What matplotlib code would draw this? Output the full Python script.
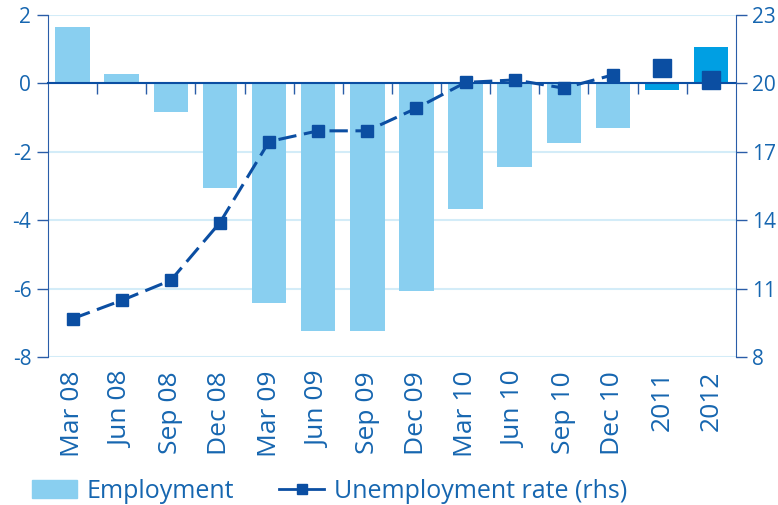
import matplotlib.pyplot as plt
import numpy as np
from matplotlib.lines import Line2D
from matplotlib.patches import Patch

plt.rcParams['font.family'] = ['Open Sans', 'DejaVu Sans']

# quarterly periods, then annual forecasts
periods = ['Mar 08', 'Jun 08', 'Sep 08', 'Dec 08', 'Mar 09', 'Jun 09', 'Sep 09',
           'Dec 09', 'Mar 10', 'Jun 10', 'Sep 10', 'Dec 10', '2011', '2012']
employment = [1.64, 0.27, -0.83, -3.05, -6.43, -7.25, -7.25, -6.08, -3.69,
              -2.46, -1.76, -1.30, -0.19, 1.06]
unemployment = [9.68, 10.48, 11.36, 13.89, 17.44, 17.91, 17.91, 18.90, 20.03,
                20.14, 19.78, 20.36, 20.66, 20.13]
n_quarters = 12

left_ticks = [-8, -6, -4, -2, 0, 2]
right_ticks = [8, 11, 14, 17, 20, 23]

light = '#89CFF0'
bright = '#009FE3'
dark = '#0B4EA2'
txt = '#1666B0'
grid = '#D3ECF8'
spine = '#2A5DA8'

x = np.arange(len(employment))
fig = plt.figure(figsize=(7.78, 5.05), dpi=100)
ax = fig.add_axes([0.0617, 0.293, 0.884, 0.678])
ax2 = ax.twinx()

colors = [light] * n_quarters + [bright] * (len(employment) - n_quarters)
ax.bar(x, employment, width=0.7, color=colors, zorder=2)

ax.set_xlim(-0.5, len(employment) - 0.5)
ax.set_ylim(-8, 2)
ax.set_yticks(left_ticks)
ax.set_yticklabels([str(v) for v in left_ticks])
ax.yaxis.grid(True, color=grid, lw=1.5, zorder=0)
ax.set_axisbelow(True)

# x axis sits on the zero line, ticks between categories
ax.spines['bottom'].set_position(('data', 0))
ax.spines['bottom'].set_color(dark)
ax.spines['bottom'].set_linewidth(1.5)
ax.spines['bottom'].set_zorder(3)
ax.set_xticks(np.arange(0.5, len(employment) - 1, 1))
ax.set_xticklabels([])
ax.tick_params(axis='x', direction='out', length=8, width=1, color=spine)
for i, p in enumerate(periods):
    ax.annotate(p, xy=(i, 0), xycoords=('data', 'axes fraction'),
                xytext=(0, -10), textcoords='offset points', rotation=90,
                ha='center', va='top', fontsize=19, color=txt)

ax.spines['top'].set_visible(False)
ax.spines['right'].set_visible(False)
ax.spines['left'].set_color(spine)
ax.tick_params(axis='y', direction='out', length=8, width=1, color=spine,
               labelsize=15, labelcolor=txt, pad=4)

# unemployment rate on right-hand scale
ax2.plot(x[:n_quarters], unemployment[:n_quarters], color=dark, lw=2.2,
         dashes=(6, 2.5), marker='s', ms=8, zorder=4)
ax2.plot(x[n_quarters:], unemployment[n_quarters:], ls='none', marker='s',
         ms=13, color=dark, zorder=4)
ax2.set_ylim(8, 23)
ax2.set_yticks(right_ticks)
ax2.tick_params(axis='y', direction='out', length=8, width=1, color=spine,
                labelsize=15, labelcolor=txt, pad=4)
for s in ['top', 'left', 'bottom']:
    ax2.spines[s].set_visible(False)
ax2.spines['right'].set_color(spine)

handles = [Patch(color=light),
           Line2D([], [], color=dark, lw=2, marker='s', ms=7)]
fig.legend(handles, ['Employment', 'Unemployment rate (rhs)'],
           loc='center left', bbox_to_anchor=(0.041, 0.027), ncol=2,
           frameon=False, fontsize=18, labelcolor=txt, handlelength=1.8,
           handleheight=0.75, handletextpad=0.4, columnspacing=1.8,
           borderpad=0, borderaxespad=0)

fig.savefig('out.png', dpi=100)
